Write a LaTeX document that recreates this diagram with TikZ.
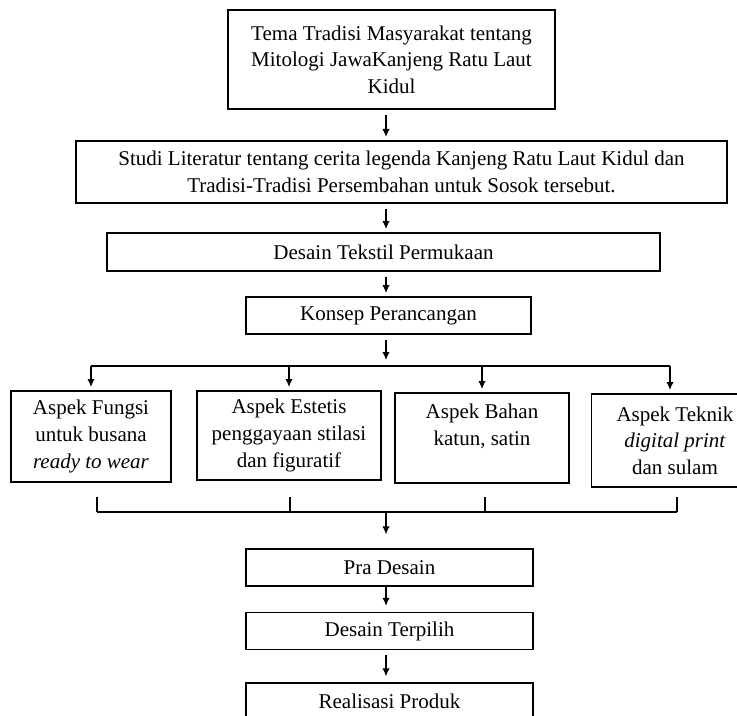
\documentclass[tikz,border=0pt]{standalone}
\usepackage{fontspec}
\setmainfont{Liberation Serif}
\usetikzlibrary{arrows.meta}
\begin{document}
\begin{tikzpicture}[
    x=0.6pt,y=-0.6pt,
    box/.style={draw,line width=0.8pt,align=center,inner sep=2pt,
        font=\fontsize{12.6}{16}\selectfont},
    wide/.style={minimum width=172.2pt,minimum height=22.2pt},
    link/.style={->,line width=0.7pt,shorten <=3pt,shorten >=2pt},
    >={Latex[length=4.8pt,width=4.4pt]}
]
\useasboundingbox (0,0) rectangle (737,715);
\clip (0,0) rectangle (737,715);

\node[box,minimum width=196.2pt,minimum height=59.4pt] (tema) at (391.5,59.5)
    {Tema Tradisi Masyarakat tentang\\Mitologi JawaKanjeng Ratu Laut\\Kidul};
\node[box,minimum width=390.6pt,minimum height=37.2pt] (studi) at (401.5,172)
    {Studi Literatur tentang cerita legenda Kanjeng Ratu Laut Kidul dan\\Tradisi-Tradisi Persembahan untuk Sosok tersebut.};
\node[box,minimum width=331.8pt,minimum height=22.8pt] (tekstil) at (383.5,252) {Desain Tekstil Permukaan};
\node[box,minimum width=171pt,minimum height=22.2pt] (konsep) at (388.5,315.5) {Konsep Perancangan};

\node[box,minimum width=96pt,minimum height=54.6pt] (fungsi) at (91,436.5)
    {Aspek Fungsi\\untuk busana\\\textit{ready to wear}};
\node[box,minimum width=110.4pt,minimum height=53.4pt] (estetis) at (289,435.5)
    {Aspek Estetis\\penggayaan stilasi\\dan figuratif};
\node[box,minimum width=104.4pt,minimum height=54pt] (bahan) at (482,438)
    {Aspek Bahan\\katun, satin\\~};
\node[box,minimum width=100pt,minimum height=55.8pt] (teknik) at (675,440.5)
    {Aspek Teknik\\\textit{digital print}\\dan sulam};

\node[box,wide] (pra) at (389.5,567.5) {Pra Desain};
\node[box,wide] (terpilih) at (389.5,631) {Desain Terpilih};
\node[box,wide] (realisasi) at (389.5,701.5) {Realisasi Produk};

\coordinate (spine) at (386,0);
\coordinate (split) at (386,366);
\coordinate (colltop) at (386,497);
\coordinate (merge) at (386,512);

\draw[link] (tema.south -| spine) -- (studi.north -| spine);
\draw[link] (studi.south -| spine) -- (tekstil.north -| spine);
\draw[link] (tekstil.south -| spine) -- (konsep.north -| spine);
\draw[link,shorten >=3.6pt] (konsep.south -| spine) -- (split);

% branching to the four aspects
\draw[line width=0.7pt] (fungsi.north |- split) -- ([xshift=-3pt]teknik.north |- split);
\foreach \n/\dx in {fungsi/0,estetis/0,bahan/0,teknik/-3}
    \draw[link,shorten <=0pt] ([xshift=\dx pt]\n.north |- split) -- ([xshift=\dx pt]\n.north);

% joining back
\foreach \n/\dx in {fungsi/3.6,estetis/0.6,bahan/1.8,teknik/1.2}
    \draw[line width=0.7pt] ([xshift=\dx pt]\n.south |- colltop) -- ([xshift=\dx pt]\n.south |- merge);
\draw[line width=0.7pt] ([xshift=3.6pt]fungsi.south |- merge) -- ([xshift=1.2pt]teknik.south |- merge);
\draw[link,shorten <=0.6pt,shorten >=8.4pt] (merge) -- (pra.north -| spine);

\draw[link,shorten <=0pt,shorten >=3.6pt] (pra.south -| spine) -- (terpilih.north -| spine);
\draw[link,shorten >=3.6pt] (terpilih.south -| spine) -- (realisasi.north -| spine);
\end{tikzpicture}
\end{document}
